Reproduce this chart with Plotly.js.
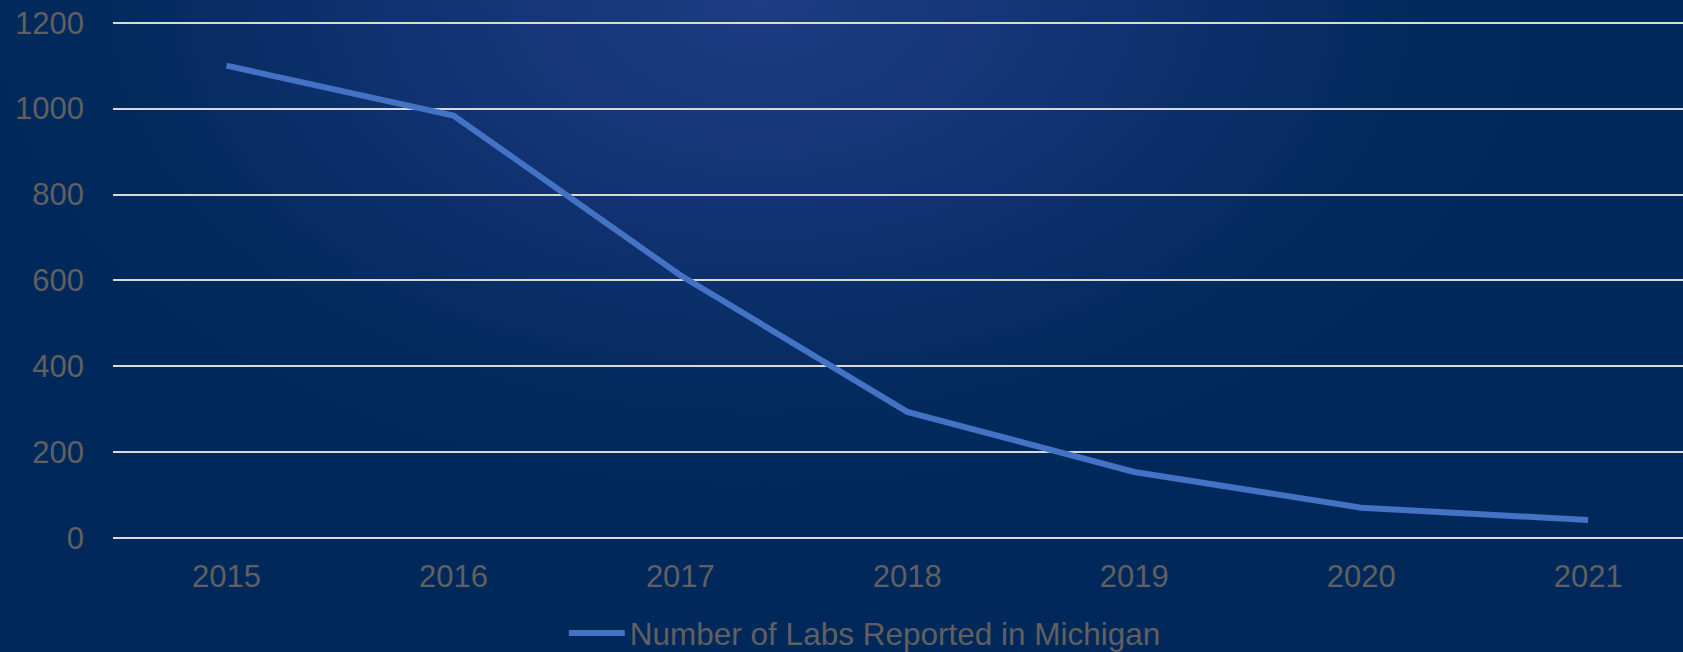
<!DOCTYPE html>
<html>
<head>
<meta charset="utf-8">
<script src="https://cdn.plot.ly/plotly-3.0.1.min.js"></script>
<style>
  html, body { margin: 0; padding: 0; width: 1683px; height: 652px; overflow: hidden; }
  body {
    background: radial-gradient(ellipse 820px 520px at 760px 0px, #1d3c84 0%, #123373 40%, #022a5c 80%, #00285a 100%);
  }
  #chart { width: 1683px; height: 652px; }
</style>
</head>
<body>
<div id="chart"></div>
<script>
const years = ['2015', '2016', '2017', '2018', '2019', '2020', '2021'];
const labsReported = [1100, 984, 612, 294, 154, 71, 42];
const seriesName = 'Number of Labs Reported in Michigan';
const yTicks = [0, 200, 400, 600, 800, 1000, 1200];

const font = { family: '"Liberation Sans", Arial, sans-serif', color: '#606060' };

const trace = {
  type: 'scatter',
  mode: 'lines',
  x: years,
  y: labsReported,
  name: seriesName,
  line: { color: '#4472C4', width: 6, shape: 'linear' },
  hoverinfo: 'x+y'
};

const layout = {
  width: 1683,
  height: 652,
  paper_bgcolor: 'rgba(0,0,0,0)',
  plot_bgcolor: 'rgba(0,0,0,0)',
  margin: { l: 113, r: 0, t: 21, b: 113, pad: 0, autoexpand: false },
  font: Object.assign({ size: 31 }, font),
  showlegend: true,
  legend: {
    orientation: 'h',
    xref: 'container',
    x: 0.335,
    xanchor: 'left',
    yref: 'container',
    y: 0.029,
    yanchor: 'middle',
    font: Object.assign({ size: 31.5 }, font),
    itemwidth: 56,
    bgcolor: 'rgba(0,0,0,0)'
  },
  xaxis: {
    type: 'category',
    range: [-0.5, 6.418],
    showgrid: false,
    zeroline: false,
    showline: false,
    ticks: '',
    ticklabelstandoff: 16,
    tickfont: Object.assign({ size: 31 }, font),
    fixedrange: true
  },
  yaxis: {
    range: [-2, 1204],
    tickvals: yTicks,
    ticktext: yTicks.map(String),
    showgrid: true,
    gridcolor: '#d9d9d9',
    gridwidth: 2,
    zeroline: true,
    zerolinecolor: '#d9d9d9',
    zerolinewidth: 2,
    showline: false,
    ticks: '',
    ticklabelstandoff: 28,
    tickfont: Object.assign({ size: 31 }, font),
    fixedrange: true
  }
};

Plotly.newPlot('chart', [trace], layout, { displayModeBar: false, staticPlot: true });
</script>
</body>
</html>
